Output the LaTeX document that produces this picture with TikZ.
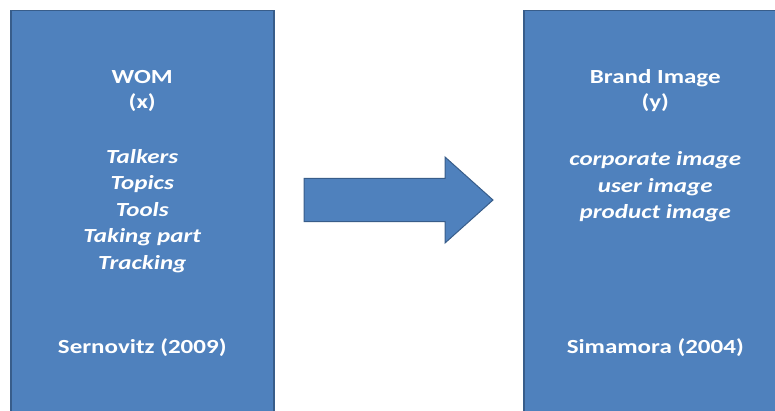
\documentclass[tikz,border=0pt]{standalone}
\usepackage{fontspec}
\setmainfont{Carlito}[FakeStretch=1.25]
\definecolor{boxblue}{HTML}{4F81BD}
\definecolor{boxline}{HTML}{385D8A}
\tikzset{
  varbox/.style={draw=boxline, fill=boxblue, line width=1.5pt, minimum width=263pt, minimum height=420pt, inner sep=0pt},
  titletext/.style={text=white, align=center, font=\fontsize{20}{25}\selectfont\bfseries},
  itemtext/.style={text=white, align=center, font=\fontsize{20}{26.5}\selectfont\bfseries\itshape}
}

\begin{document}
\begin{tikzpicture}[x=1pt,y=1pt]
        \useasboundingbox (0,0) rectangle (775,410);
        \clip (0,0) rectangle (775,410);

        \node[varbox, anchor=north west] (wom) at (10,400) {};
        \node[varbox, anchor=north west] (brand) at (523,400) {};

        \draw[fill=boxblue, draw=boxline, line width=1pt] (304,231.5) -- (445,231.5) -- (445,253) -- (493,210) -- (445,167) -- (445,188.5) -- (304,188.5) -- cycle;

        \node[titletext] (womtitle) at ([yshift=-81pt]wom.north) {WOM\\(x)};
        \node[itemtext] (womitems) at ([yshift=-201pt]wom.north) {Talkers\\Topics\\Tools\\Taking part\\Tracking};
        \node[titletext] (womsource) at ([yshift=-338pt]wom.north) {Sernovitz (2009)};

        \node[titletext] (brandtitle) at ([yshift=-81pt]brand.north) {Brand Image\\(y)};
        \node[itemtext] (branditems) at ([yshift=-177pt]brand.north) {corporate image\\user image\\product image};
        \node[titletext] (brandsource) at ([yshift=-338pt]brand.north) {Simamora (2004)};
\end{tikzpicture}
\end{document}
